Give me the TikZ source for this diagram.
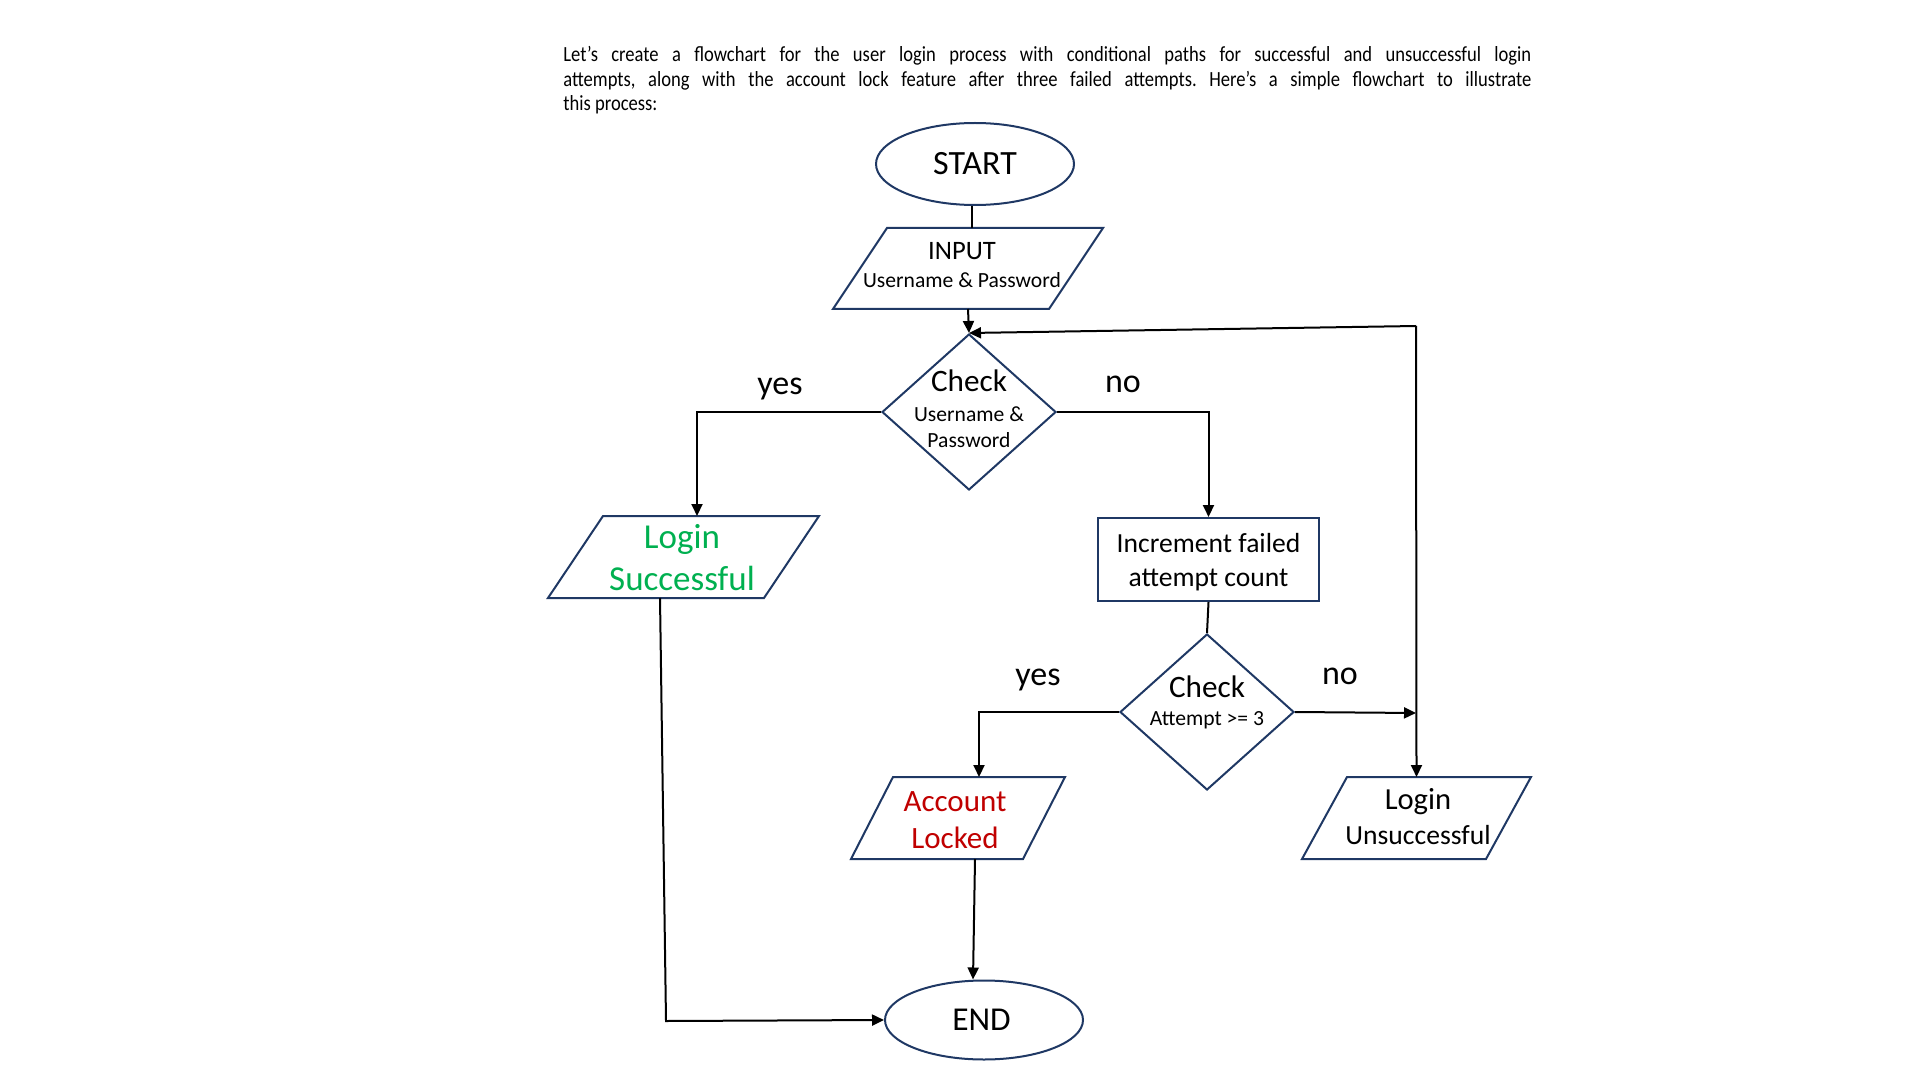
\documentclass[tikz,border=0pt]{standalone}
\usepackage{fontspec}
\setmainfont{Carlito}
\newfontfamily\narrowfont[FakeStretch=0.86]{Carlito}
\usetikzlibrary{shapes.geometric,arrows.meta,calc}
\definecolor{outline}{HTML}{1F3864}
\definecolor{okgreen}{HTML}{00B050}
\definecolor{lockred}{HTML}{C00000}
\newcommand\setfs[2]{\fontsize{#1}{#2}\selectfont}
% parallelogram drawn around an invisible frame node: #1 node name, #2 slant
\newcommand\parallelo[2]{\draw[shapeline] ($(#1.north west)+(#2,0)$) -- (#1.north east) -- ($(#1.south east)-(#2,0)$) -- (#1.south west) -- cycle;}

\begin{document}
\frenchspacing
\begin{tikzpicture}[x=0.5pt,y=-0.5pt,
  shapeline/.style={draw=outline,line width=1pt},
  conn/.style={line width=1pt,draw=black},
  arr/.style={conn,-{Triangle[length=6pt,width=5.5pt]}},
  oval/.style={shapeline,ellipse,minimum width=99pt,minimum height=41pt,inner sep=0pt},
  rhomb/.style={shapeline,diamond,minimum width=87pt,minimum height=78pt,inner sep=0pt},
  frame/.style={inner sep=0pt,outer sep=0pt},
  caption/.style={align=center,inner sep=0pt},
  procbox/.style={shapeline,rectangle,inner sep=0pt},
  branch/.style={font=\setfs{17}{20},inner sep=0pt,anchor=base},
]
\useasboundingbox (0,0) rectangle (1920,1080);

% introduction
\node[anchor=north west,inner sep=0pt,text width=484pt,align=justify,
      font=\narrowfont\setfs{10.8}{12.4}] (intro) at (563,45.7)
  {Let’s create a flowchart for the user login process with conditional paths for successful and unsuccessful login\linebreak
   attempts, along with the account lock feature after three failed attempts. Here’s a simple flowchart to illustrate\linebreak
   this process:};

% terminals
\node[oval,font=\setfs{17}{20}] (start) at (975,164) {START};
\node[oval,minimum height=39.5pt,font=\setfs{16.7}{20}] (end) at (984,1020) {};
\node[caption,font=\setfs{16.7}{20}] (endtxt) at (981.5,1020) {END};

% input
\node[frame,minimum width=135pt,minimum height=40.5pt] (input) at (968,268.5) {};
\parallelo{input}{54}
\node[caption,font=\setfs{10.8}{14}] (inputtxt) at (962,265) {{\setfs{13.3}{14}INPUT}\\Username \& Password};

% first decision
\node[rhomb] (check1) at (969,412) {};
\node[caption,font=\setfs{10.8}{12.9}] (check1txt) at (969,408.5)
  {{\setfs{15.6}{12.9}Check}\\[2pt]Username \&\\Password};

% success
\node[frame,minimum width=135.5pt,minimum height=41pt] (ls) at (683.5,557) {};
\parallelo{ls}{55}
\node[caption,text=okgreen,font=\setfs{17.5}{21.2}] (lstxt) at (682,557.5) {Login\\Successful};

% failure counter
\node[procbox,minimum width=110.5pt,minimum height=41.5pt] (inc) at (1208.5,559.5) {};
\node[caption,font=\setfs{13.8}{16.9}] (inctxt) at (1208.5,562) {Increment failed\\attempt count};

% second decision
\node[rhomb] (check2) at (1207,712) {};
\node[caption,font=\setfs{10.8}{13.9}] (check2txt) at (1207,702.8)
  {{\setfs{15.6}{13.9}Check}\\Attempt >= 3};

% locked
\node[frame,minimum width=107pt,minimum height=41pt] (al) at (958,818) {};
\parallelo{al}{42}
\node[caption,text=lockred,font=\setfs{15.5}{18.8}] (altxt) at (955,820) {Account\\Locked};

% unsuccessful
\node[frame,minimum width=114.5pt,minimum height=41pt] (lu) at (1416.5,818) {};
\parallelo{lu}{45}
\node[caption,font=\setfs{13.8}{17.2}] (lutxt) at (1418,816.5) {{\setfs{15.3}{17.2}Login}\\Unsuccessful};

% branch labels
\node[branch] (yes1) at (780,394) {yes};
\node[branch] (no1) at (1123,393) {no};
\node[branch] (yes2) at (1038,685) {yes};
\node[branch] (no2) at (1340,684) {no};

% connectors
\coordinate (loopturn) at (1416,326);
\coordinate (loopjoin) at (1416,713);
\coordinate (lsturn) at (666,1021);

\draw[conn] ([xshift=-1.5pt]start.south) -- ([xshift=-1.5pt]start.south |- input.north);
\draw[arr] (input.south) -- (check1.north);
\draw[arr] (check1.west) -| ([xshift=6.75pt]ls.north);
\draw[arr] (check1.east) -| (inc.north);
\draw[conn] (inc.south) -- (check2.north);
\draw[arr] (check2.west) -| ([xshift=10.5pt]al.north);
\draw[arr] (check2.east) -- (loopjoin);
\draw[arr] (loopturn) -- (lu.north);
\draw[arr] (loopturn) -- (check1.north);
\draw[arr] ([xshift=-11.75pt]ls.south) -- (lsturn) -- (end.west);
\draw[arr] ([xshift=8.5pt]al.south) -- ([xshift=-5.5pt]end.north);
\end{tikzpicture}
\end{document}
